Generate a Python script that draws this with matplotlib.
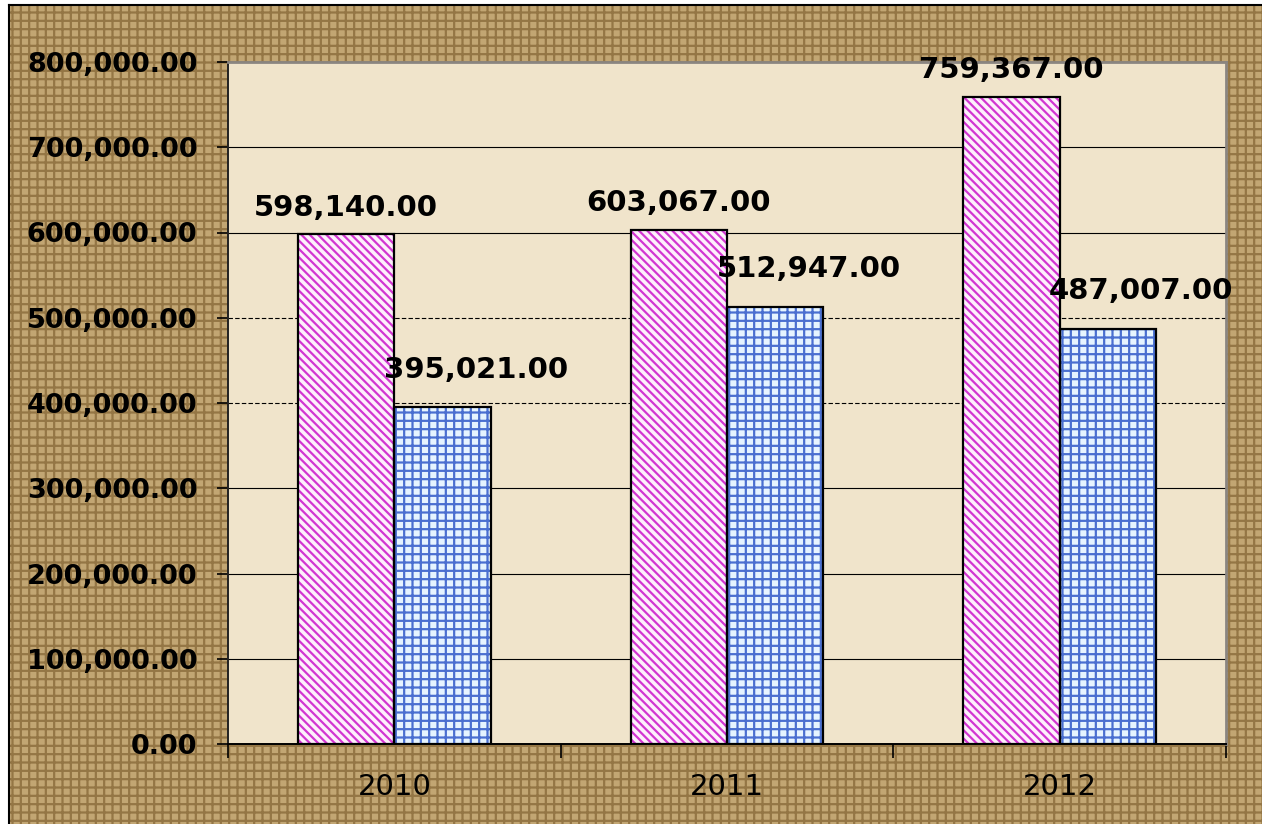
import matplotlib.pyplot as plt
from matplotlib.patches import Rectangle
from matplotlib.ticker import FuncFormatter, FixedLocator
import numpy as np

years = ["2010", "2011", "2012"]
series_a = [598140.00, 603067.00, 759367.00]
series_b = [395021.00, 512947.00, 487007.00]
y_ticks = [0, 100000, 200000, 300000, 400000, 500000, 600000, 700000, 800000]
dashed_grid = [400000, 500000]

plt.rcParams["hatch.linewidth"] = 1.6

fig = plt.figure(figsize=(12.62, 8.24), dpi=100, facecolor="white")

# burlap-like background with a black frame on left/top
bg = Rectangle((9 / 1262, -0.01), 1.02, (824 - 5) / 824 + 0.01, transform=fig.transFigure,
               facecolor="#c2a673", edgecolor="#947645", hatch="++", linewidth=0, zorder=-5)
fig.patches.append(bg)
fig.add_artist(plt.Line2D([9 / 1262, 9 / 1262], [0, 1 - 5 / 824], color="black", lw=1.5,
                          transform=fig.transFigure, zorder=-4))
fig.add_artist(plt.Line2D([9 / 1262, 1], [1 - 5 / 824, 1 - 5 / 824], color="black", lw=1.5,
                          transform=fig.transFigure, zorder=-4))

ax = fig.add_axes([228 / 1262, 80 / 824, (1226 - 228) / 1262, (744 - 62) / 824])
ax.set_facecolor("#f0e4cb")

x = np.arange(len(years))
w = 0.29

# hatched fills (hatch takes edge colour), then black outlines on top
ax.bar(x - w / 2, series_a, w, facecolor="#fdf0fb", edgecolor="#d236d2", hatch="\\\\\\\\",
       linewidth=0, zorder=3)
ax.bar(x + w / 2, series_b, w, facecolor="#e6f4ff", edgecolor="#4a6fd0", hatch="++",
       linewidth=0, zorder=3)
ax.bar(x - w / 2, series_a, w, facecolor="none", edgecolor="black", linewidth=1.6, zorder=4)
ax.bar(x + w / 2, series_b, w, facecolor="none", edgecolor="black", linewidth=1.6, zorder=4)

for xi, v in zip(x, series_a):
    ax.annotate(f"{v:,.2f}", (xi - w / 2, v), xytext=(0, 19), textcoords="offset points",
                ha="center", va="center", fontsize=21, fontweight="bold", color="black", zorder=5)
for xi, v in zip(x, series_b):
    ax.annotate(f"{v:,.2f}", (xi + w / 2 + 0.1, v), xytext=(0, 27), textcoords="offset points",
                ha="center", va="center", fontsize=21, fontweight="bold", color="black", zorder=5)

for t in y_ticks[1:-1]:
    ls = (0, (4, 2)) if t in dashed_grid else "-"
    ax.axhline(t, color="black", linewidth=0.8, linestyle=ls, zorder=1)

ax.set_xlim(-0.5, 2.5)
ax.set_ylim(0, 800000)
ax.yaxis.set_major_locator(FixedLocator(y_ticks))
ax.yaxis.set_major_formatter(FuncFormatter(lambda v, p: f"{v:,.2f}"))
ax.set_xticks([-0.5, 0.5, 1.5, 2.5])
ax.set_xticklabels([])
ax.set_xticks(x, minor=True)
ax.set_xticklabels(years, minor=True, fontsize=21)
ax.tick_params(axis="x", which="minor", length=0, pad=21)
ax.tick_params(axis="x", which="major", direction="out", length=10, width=1.2, color="black")
ax.tick_params(axis="y", direction="out", length=8, width=1.2, pad=14, labelsize=19.5)
for lab in ax.get_yticklabels():
    lab.set_fontweight("bold")

ax.spines["left"].set_color("#222222")
ax.spines["bottom"].set_color("black")
ax.spines["left"].set_linewidth(1.4)
ax.spines["bottom"].set_linewidth(1.4)
ax.spines["top"].set_color("#8a8580")
ax.spines["right"].set_color("#8a8580")
ax.spines["top"].set_linewidth(2)
ax.spines["right"].set_linewidth(2)

fig.savefig("out.png", dpi=100, facecolor=fig.get_facecolor())
